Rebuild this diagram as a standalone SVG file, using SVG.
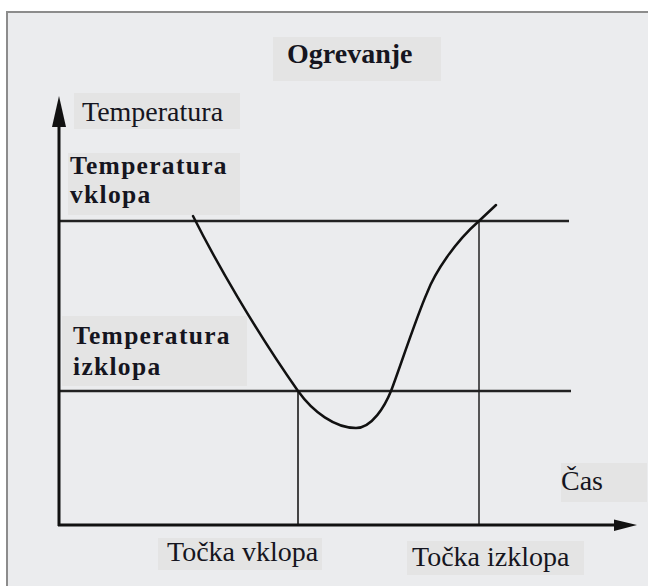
<svg xmlns="http://www.w3.org/2000/svg" width="648" height="586" viewBox="0 0 648 586">
<style>
.box{fill:#e4e4e4}
.t{font-family:"Liberation Serif","Times New Roman",serif;font-size:28px;fill:#151520}
.b{font-weight:bold;font-size:25.5px;letter-spacing:1.3px}
.ax{stroke:#111;stroke-width:3;fill:none}
.hl{stroke:#222;stroke-width:2.5;fill:none}
</style>
<rect x="0" y="0" width="648" height="586" fill="#ffffff"/>
<rect x="7" y="12" width="700" height="700" fill="#ebecee" stroke="#8c8c8c" stroke-width="2"/>
<g id="title">
<rect class="box" x="273" y="37" width="168" height="44"/>
<text class="t" x="287" y="63" style="font-weight:bold">Ogrevanje</text>
</g>
<g id="label-temperatura">
<rect class="box" x="74" y="93" width="166" height="36"/>
<text class="t" x="82" y="121">Temperatura</text>
</g>
<g id="label-vklopa">
<rect class="box" x="68" y="153" width="172" height="62"/>
<text class="t b" x="70" y="174">Temperatura</text>
<text class="t b" x="70" y="203">vklopa</text>
</g>
<g id="label-izklopa">
<rect class="box" x="62" y="316" width="185" height="70"/>
<text class="t b" x="73" y="344">Temperatura</text>
<text class="t b" x="73" y="375">izklopa</text>
</g>
<g id="label-cas">
<rect class="box" x="561" y="463" width="86" height="39"/>
<text class="t" x="561" y="490">Čas</text>
</g>
<g id="label-tocka-vklopa">
<rect class="box" x="158" y="538" width="164" height="32"/>
<text class="t" x="167" y="561">Točka vklopa</text>
</g>
<g id="label-tocka-izklopa">
<rect class="box" x="407" y="541" width="177" height="34"/>
<text class="t" x="412" y="566">Točka izklopa</text>
</g>
<g id="connectors">
<line class="hl" x1="59" y1="221" x2="569" y2="221"/>
<line class="hl" x1="59" y1="391" x2="571" y2="391"/>
<line x1="298" y1="391" x2="298" y2="525" stroke="#444" stroke-width="2"/>
<line x1="479" y1="221" x2="479" y2="525" stroke="#222" stroke-width="1.5"/>
<path d="M193,216 C215,260 255,330 298,391 C313,412 335,428 356,428 C372,428 385,406 391,391 C397,376 416,318 427,293 C435,272 455,242 479,221 L496,205" fill="none" stroke="#111" stroke-width="2.5" stroke-linecap="round"/>
<line class="ax" x1="59" y1="526" x2="59" y2="120"/>
<polygon points="59,96 66,127 52,127" fill="#111"/>
<line class="ax" x1="58" y1="525" x2="620" y2="525"/>
<polygon points="637,525 614,519.5 614,531" fill="#111"/>
</g>
</svg>
